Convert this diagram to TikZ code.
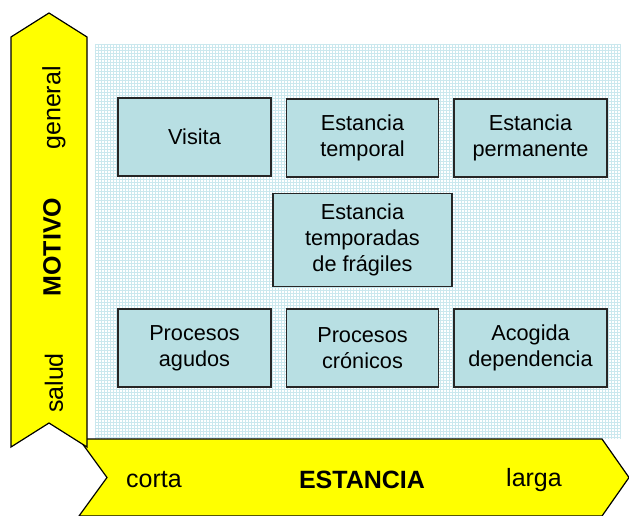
\documentclass[tikz,border=0pt]{standalone}
\usepackage{fontspec}
\setmainfont{Liberation Sans}
\definecolor{arrowyellow}{HTML}{FFFF00}
\definecolor{boxfill}{HTML}{B8DFE3}
\definecolor{gridc}{HTML}{CBE8EE}
\begin{document}
\begin{tikzpicture}[x=1pt,y=-1pt,
  every node/.style={font=\fontsize{21.7}{26}\selectfont},
  cellbox/.style={draw=black!85,line width=1.2pt,fill=boxfill,align=center,inner sep=0pt},
  arrowshape/.style={draw=black,line width=1.2pt,fill=arrowyellow,line join=miter},
  axislabel/.style={inner sep=0pt,font=\fontsize{25}{30}\selectfont},
  axistitle/.style={inner sep=0pt,font=\fontsize{25}{30}\selectfont\bfseries}]
\useasboundingbox (0,0) rectangle (629,516);
% grid background
\foreach \i in {95,98,...,620} \draw[gridc,line width=0.5pt] (\i,44) -- (\i,439);
\foreach \j in {44,47,...,439} \draw[gridc,line width=0.5pt] (95,\j) -- (620,\j);
% horizontal arrow (behind)
\draw[arrowshape] (79,439) -- (602,439) -- (629,477.5) -- (602,516) -- (79,516) -- (107,477.5) -- cycle;
% vertical arrow (on top)
\draw[arrowshape] (11,37) -- (49,13) -- (87,37) -- (87,447) -- (49,423) -- (11,447) -- cycle;
% axis texts
\node[axislabel,rotate=90] (general) at (54,108) {general};
\node[axistitle,rotate=90] (motivo) at (52,247) {MOTIVO};
\node[axislabel,rotate=90] (salud) at (54,383) {salud};
\node[axislabel] (corta) at (154,480) {corta};
\node[axistitle] (estancia) at (362,480) {ESTANCIA};
\node[axislabel] (larga) at (534,480) {larga};
% boxes
\node[cellbox,minimum width=153pt,minimum height=78pt] (visita) at (194.5,137) {Visita};
\node[cellbox,minimum width=152pt,minimum height=78pt] (temporal) at (362.5,138) {Estancia\\temporal};
\node[cellbox,minimum width=153pt,minimum height=78pt] (permanente) at (530.5,138) {Estancia\\permanente};
\node[cellbox,minimum width=179pt,minimum height=93pt] (fragiles) at (362.5,240) {Estancia\\temporadas\\de frágiles};
\node[cellbox,minimum width=153pt,minimum height=78pt] (agudos) at (194.5,348) {Procesos\\agudos};
\node[cellbox,minimum width=152pt,minimum height=78pt] (cronicos) at (362.5,348) {Procesos\\crónicos};
\node[cellbox,minimum width=153pt,minimum height=78pt] (dependencia) at (530.5,348) {Acogida\\dependencia};
\end{tikzpicture}
\end{document}
